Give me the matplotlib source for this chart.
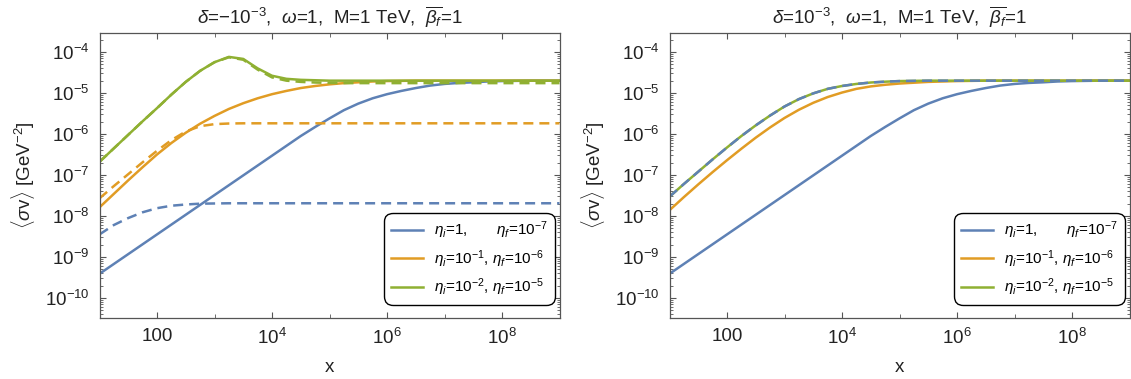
import numpy as np
import matplotlib
matplotlib.use('Agg')
import matplotlib.pyplot as plt
from matplotlib.ticker import FixedLocator, NullFormatter

plt.rcParams['font.family'] = ['Liberation Sans', 'DejaVu Sans']
plt.rcParams['mathtext.fontset'] = 'custom'
plt.rcParams['mathtext.rm'] = 'Liberation Sans'
plt.rcParams['mathtext.it'] = 'Liberation Sans:italic'

log_x = [1, 1.25, 1.5, 1.75, 2, 2.25, 2.5, 2.75, 3, 3.25, 3.5, 3.75, 4, 4.25,
         4.5, 4.75, 5, 5.25, 5.5, 5.75, 6, 6.25, 6.5, 6.75, 7, 7.25, 7.5, 7.75,
         8, 8.5, 9]

# log10(<sigma v>), left panel (delta = -1e-3)
left_blue = [-9.41, -9.17, -8.93, -8.69, -8.45, -8.21, -7.97, -7.73, -7.49, -7.25,
             -7.01, -6.77, -6.53, -6.29, -6.05, -5.83, -5.62, -5.42, -5.26, -5.13,
             -5.03, -4.95, -4.88, -4.82, -4.78, -4.755, -4.74, -4.72,
             -4.71, -4.70, -4.70]
left_blue_d = [-8.45, -8.22, -8.05, -7.91, -7.81, -7.75, -7.72, -7.70, -7.695, -7.69,
               -7.69, -7.69, -7.69, -7.69, -7.69, -7.69, -7.69, -7.69, -7.69, -7.69,
               -7.69, -7.69, -7.69, -7.69, -7.69, -7.69, -7.69, -7.69,
               -7.69, -7.69, -7.69]
left_orange = [-7.79, -7.46, -7.13, -6.81, -6.50, -6.22, -5.97, -5.75, -5.56, -5.39,
               -5.25, -5.13, -5.03, -4.95, -4.88, -4.83, -4.79, -4.76, -4.74, -4.72,
               -4.71, -4.705, -4.70, -4.70, -4.70, -4.70, -4.70, -4.70,
               -4.70, -4.70, -4.70]
left_orange_d = [-7.57, -7.27, -6.98, -6.69, -6.41, -6.15, -5.94, -5.81, -5.76, -5.745,
                 -5.74, -5.74, -5.74, -5.74, -5.74, -5.74, -5.74, -5.74, -5.74, -5.74,
                 -5.74, -5.74, -5.74, -5.74, -5.74, -5.74, -5.74, -5.74,
                 -5.74, -5.74, -5.74]
left_green = [-6.68, -6.35, -6.02, -5.69, -5.37, -5.04, -4.73, -4.46, -4.25, -4.12,
              -4.17, -4.40, -4.58, -4.655, -4.68, -4.69, -4.70, -4.70, -4.70, -4.70,
              -4.70, -4.70, -4.70, -4.70, -4.70, -4.70, -4.70, -4.70,
              -4.70, -4.70, -4.70]
left_green_d = [-6.68, -6.35, -6.02, -5.69, -5.37, -5.04, -4.73, -4.46, -4.25, -4.13,
                -4.19, -4.43, -4.62, -4.70, -4.73, -4.745, -4.755, -4.76, -4.76, -4.76,
                -4.76, -4.76, -4.76, -4.76, -4.76, -4.76, -4.76, -4.76,
                -4.76, -4.76, -4.76]

# right panel (delta = +1e-3); blue solid is the same as on the left
right_orange = [-7.86, -7.54, -7.23, -6.93, -6.64, -6.36, -6.09, -5.84, -5.61, -5.41,
                -5.24, -5.10, -4.99, -4.90, -4.84, -4.80, -4.77, -4.75, -4.73, -4.72,
                -4.71, -4.705, -4.70, -4.70, -4.70, -4.70, -4.70, -4.70,
                -4.70, -4.70, -4.70]
right_green = [-7.53, -7.22, -6.92, -6.62, -6.33, -6.05, -5.79, -5.55, -5.33, -5.15,
               -5.01, -4.90, -4.83, -4.78, -4.745, -4.725, -4.71, -4.705, -4.70, -4.70,
               -4.70, -4.70, -4.70, -4.70, -4.70, -4.70, -4.70, -4.70,
               -4.70, -4.70, -4.70]

labels = [r'$\eta_i$=1,       $\eta_f$=10$^{-7}$',
          r'$\eta_i$=10$^{-1}$, $\eta_f$=10$^{-6}$',
          r'$\eta_i$=10$^{-2}$, $\eta_f$=10$^{-5}$']
titles = [r'$\delta$=$-$10$^{-3}$,  $\omega$=1,  M=1 TeV,  $\overline{\beta_f}$=1',
          r'$\delta$=10$^{-3}$,  $\omega$=1,  M=1 TeV,  $\overline{\beta_f}$=1']

blue, orange, green = '#5e81b5', '#e19c24', '#8fb032'
x = 10.0 ** np.array(log_x)
p = lambda a: 10.0 ** np.array(a)

fig = plt.figure(figsize=(11.31, 3.79), dpi=100)
W, H = 1131, 379
axL = fig.add_axes([99.5 / W, 1 - 318 / H, 460 / W, 285 / H])
axR = fig.add_axes([669.5 / W, 1 - 318 / H, 460 / W, 285 / H])

lw = 1.8
dash = (0, (4, 2.4))

axL.plot(x, p(left_blue), color=blue, lw=lw, label=labels[0])
axL.plot(x, p(left_orange), color=orange, lw=lw, label=labels[1])
axL.plot(x, p(left_green), color=green, lw=lw, label=labels[2])
axL.plot(x, p(left_blue_d), color=blue, lw=lw, ls=dash)
axL.plot(x, p(left_orange_d), color=orange, lw=lw, ls=dash)
axL.plot(x, p(left_green_d), color=green, lw=lw, ls=dash)

axR.plot(x, p(left_blue), color=blue, lw=lw, label=labels[0])
axR.plot(x, p(right_orange), color=orange, lw=lw, label=labels[1])
axR.plot(x, p(right_green), color=green, lw=lw, label=labels[2])
axR.plot(x, p(right_green), color=blue, lw=lw, ls=dash)

yticks = [10.0 ** k for k in range(-10, -3)]
yminor = [m * 10.0 ** k for k in range(-11, -3) for m in range(2, 10)]

for ax, t in zip([axL, axR], titles):
    ax.set_xscale('log')
    ax.set_yscale('log')
    ax.set_xlim(10, 1e9)
    ax.set_ylim(3.25e-11, 2.9e-4)
    ax.xaxis.set_major_locator(FixedLocator([1e2, 1e4, 1e6, 1e8]))
    ax.set_xticklabels(['100', '$10^{4}$', '$10^{6}$', '$10^{8}$'])
    ax.xaxis.set_minor_locator(FixedLocator([1e3, 1e5, 1e7]))
    ax.xaxis.set_minor_formatter(NullFormatter())
    ax.yaxis.set_major_locator(FixedLocator(yticks))
    ax.set_yticklabels(['$10^{%d}$' % k for k in range(-10, -3)])
    ax.yaxis.set_minor_locator(FixedLocator(yminor))
    ax.yaxis.set_minor_formatter(NullFormatter())
    ax.tick_params(which='both', direction='in', top=True, right=True,
                   labelsize=13.5, color='#555555', labelcolor='#222222')
    ax.tick_params(which='major', length=4.5, width=0.8, pad=7)
    ax.tick_params(which='minor', length=2.5, width=0.6)
    ax.tick_params(axis='x', which='minor', length=3)
    for s in ax.spines.values():
        s.set_color('#555555')
        s.set_linewidth(0.9)
    ax.set_title(t, fontsize=13.5, pad=7, color='#222222')
    ax.set_xlabel('x', fontsize=13.5, color='#222222', labelpad=8)
    ax.set_ylabel(r'$\langle\sigma$v$\rangle$ [GeV$^{-2}$]', fontsize=13.5,
                  color='#222222', labelpad=6)
    leg = ax.legend(loc='lower right', bbox_to_anchor=(0.99, 0.046), borderaxespad=0,
                    fontsize=11, handlelength=2.1, handletextpad=0.7,
                    labelspacing=0.45, fancybox=True, framealpha=1,
                    edgecolor='black', borderpad=0.45)
    leg.get_frame().set_linewidth(1.0)
    leg.get_frame().set_boxstyle('round', pad=0, rounding_size=0.55)

fig.savefig('out.png', dpi=100)
